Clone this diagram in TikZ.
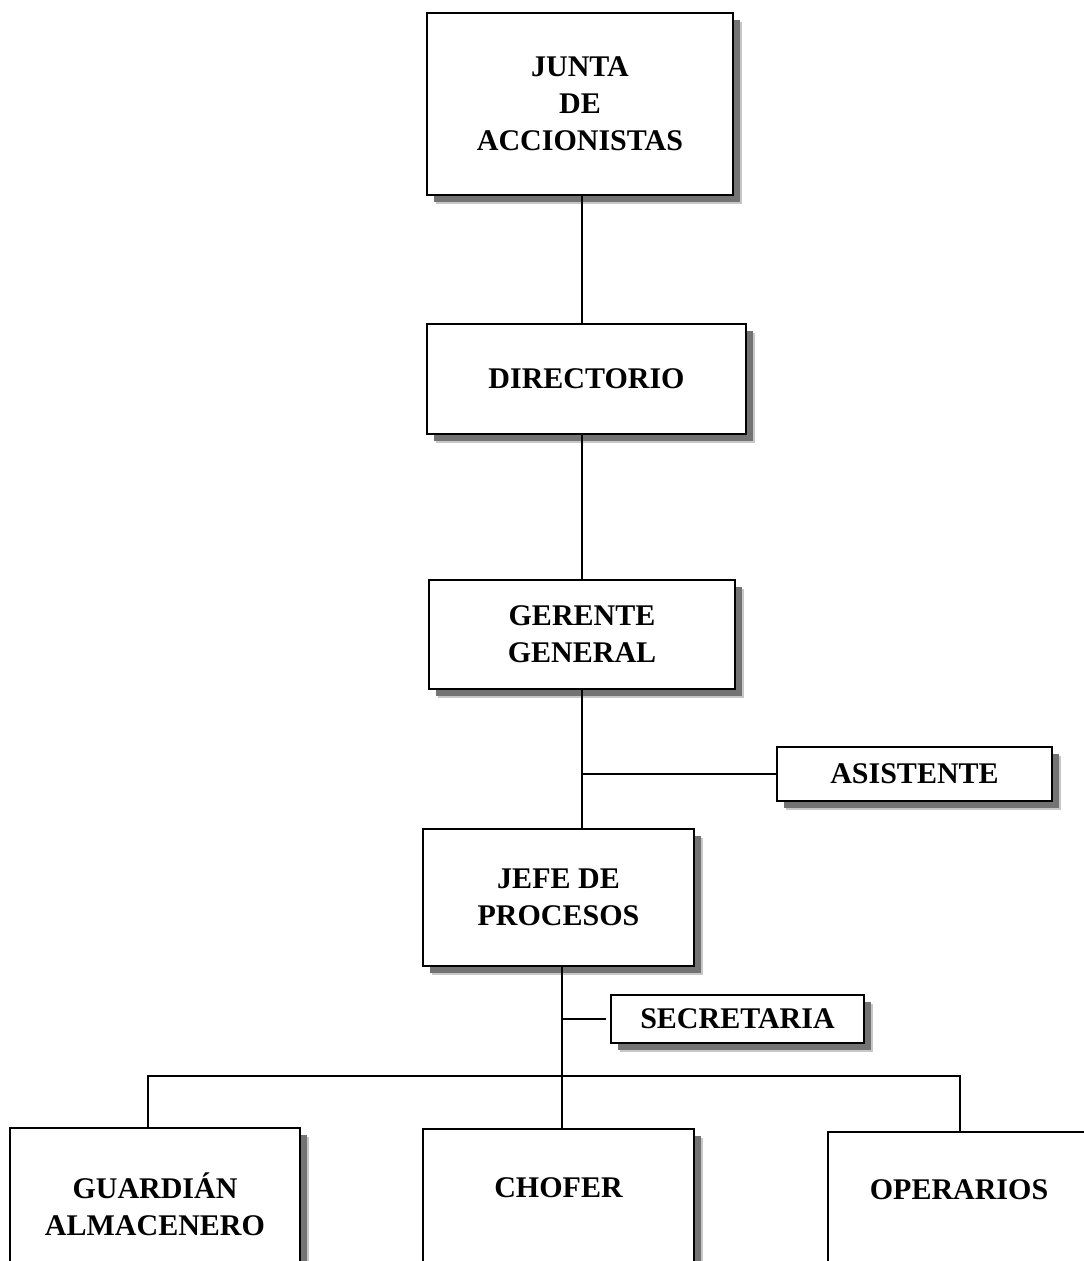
\documentclass[tikz,border=0pt]{standalone}
\usepackage{fontspec}
\setmainfont{Liberation Serif}
\usetikzlibrary{shadows,calc}

\tikzset{
  orgbox/.style={draw=black, line width=2pt, fill=white, rectangle, inner sep=0pt,
    align=center, font=\bfseries\fontsize{30}{37}\selectfont,
    drop shadow={shadow xshift=9pt, shadow yshift=-9pt, fill=black!22, opacity=1},
    drop shadow={shadow xshift=7pt, shadow yshift=-7pt, fill=black!55, opacity=1}},
  orglabel/.style={inner sep=0pt, align=center, font=\bfseries\fontsize{30}{37}\selectfont},
  link/.style={draw=black, line width=2pt}
}

\begin{document}
\begin{tikzpicture}[x=1pt, y=-1pt]
  \useasboundingbox (0,0) rectangle (1084,1261);
  \clip (0,0) rectangle (1084,1261);
  \fill[white] (0,0) rectangle (1084,1261);

  % vertical spines of the chart
  \coordinate (spine) at (582,0);
  \coordinate (spinelow) at (562,0);
  \coordinate (bus) at (0,1076);

  % upper chain
  \node[orgbox, minimum width=306pt, minimum height=182pt] (junta) at (580,104)
    {JUNTA\\DE\\ACCIONISTAS};
  \node[orgbox, minimum width=319pt, minimum height=110pt] (directorio) at (586.5,379)
    {DIRECTORIO};
  \node[orgbox, minimum width=306pt, minimum height=109pt] (gerente) at (582,634.5)
    {GERENTE\\GENERAL};
  \node[orgbox, minimum width=275pt, minimum height=54pt] (asistente) at (914.5,774)
    {ASISTENTE};
  \node[orgbox, minimum width=271pt, minimum height=137pt] (jefe) at (558.5,897.5)
    {JEFE DE\\PROCESOS};
  \node[orgbox, minimum width=253pt, minimum height=48pt] (secretaria) at (737.5,1019)
    {SECRETARIA};

  % lower row (boxes run past the lower edge)
  \node[orgbox, anchor=north, minimum width=290pt, minimum height=250pt] (guardian) at (155,1127) {};
  \node[orgbox, anchor=north, minimum width=271pt, minimum height=250pt] (chofer) at (558.5,1128) {};
  \node[orgbox, anchor=north, minimum width=262pt, minimum height=250pt] (operarios) at (959,1131) {};
  \node[orglabel] (guardiantext) at (guardian.north |- 0,1204) {GUARDIÁN\\ALMACENERO};
  \node[orglabel] (chofertext) at (chofer.north |- 0,1188) {CHOFER};
  \node[orglabel] (operariostext) at (operarios.north |- 0,1190) {OPERARIOS};

  % connectors
  \draw[link] (junta.south -| spine) -- (directorio.north -| spine);
  \draw[link] (directorio.south -| spine) -- (gerente.north -| spine);
  \draw[link] (gerente.south -| spine) -- (jefe.north -| spine);
  \draw[link] (asistente.west) -- (asistente.west -| spine);
  \draw[link] (jefe.south -| spinelow) -- (chofer.north -| spinelow);
  \draw[link, shorten <=4pt] (secretaria.west) -- (secretaria.west -| spinelow);
  \draw[link] ([xshift=-7pt]guardian.north) -- ([xshift=-7pt]guardian.north |- bus)
    -- ([xshift=1pt]operarios.north |- bus) -- ([xshift=1pt]operarios.north);
\end{tikzpicture}
\end{document}
